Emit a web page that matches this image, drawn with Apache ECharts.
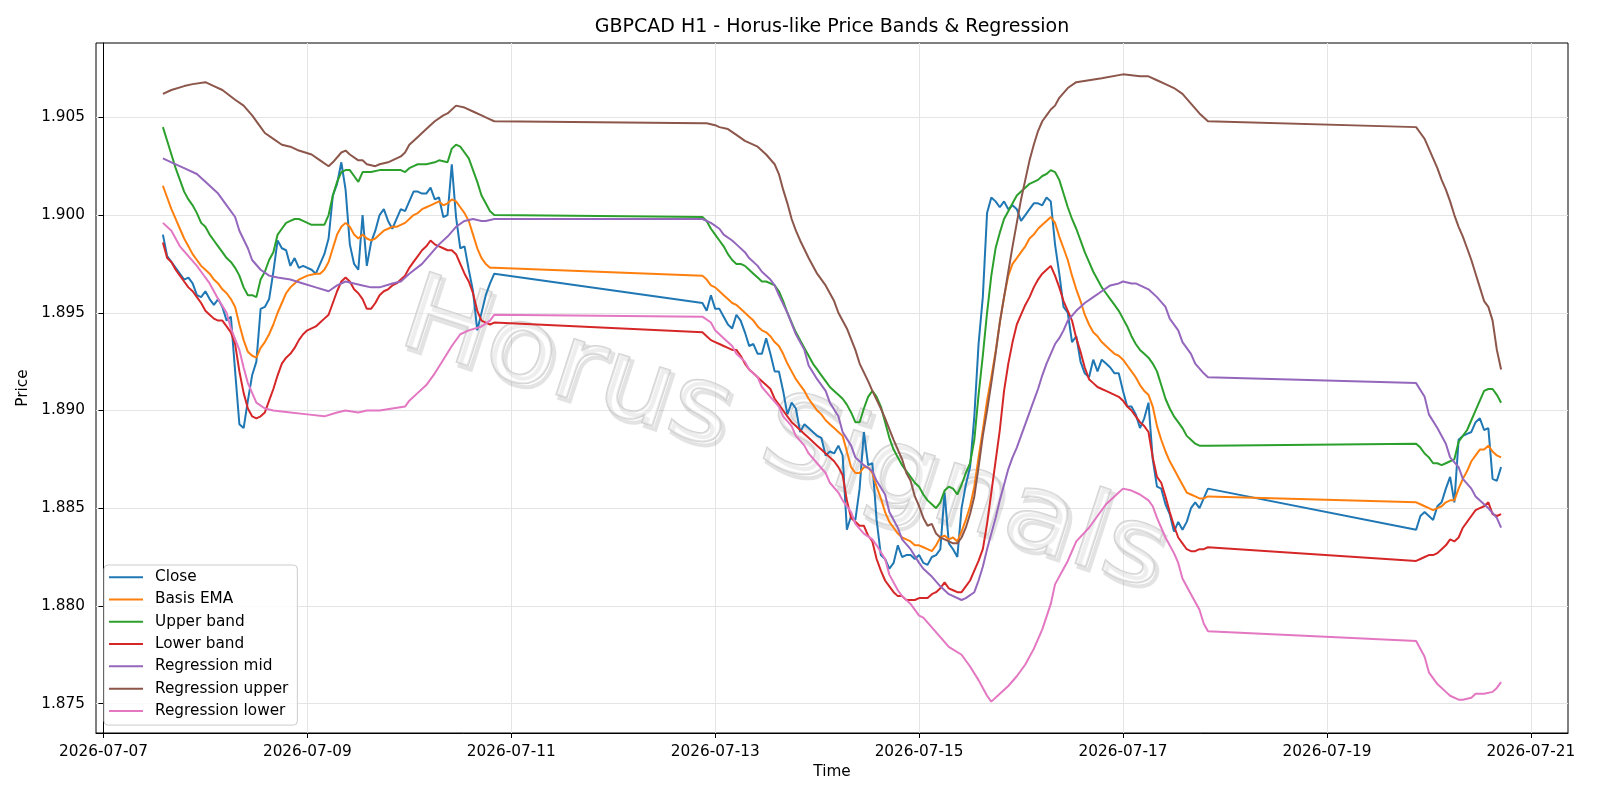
<!DOCTYPE html>
<html>
<head>
<meta charset="utf-8">
<title>GBPCAD H1 - Horus-like Price Bands & Regression</title>
<script src="https://cdn.jsdelivr.net/npm/echarts@6/dist/echarts.min.js"></script>
<style>
  html, body { margin: 0; padding: 0; background: #fff; }
  #chart { width: 1600px; height: 800px; }
</style>
</head>
<body>
<div id="chart"></div>
<script>
// x = hours since 2026-07-07 00:00, y = price
var closeData = [
  [14,1.8990],[15,1.8979],[17,1.8973],[19,1.8967],[20,1.8968],[21,1.8965],[22,1.8959],[23,1.8958],[24,1.8961],
  [25,1.8957],[26,1.8954],[27,1.8957],[28,1.8953],[29,1.8946],[30,1.8948],[31,1.8920],[32,1.8893],[33,1.8891],
  [34,1.8905],[35,1.8918],[36,1.8925],[37,1.8952],[38,1.8953],[39,1.8957],[40,1.8971],[41,1.8987],[42,1.8983],
  [43,1.8982],[44,1.8974],[45,1.8978],[46,1.8973],[47,1.8974],[49,1.8972],[50,1.8970],[51,1.8975],[52,1.8980],
  [53,1.8988],[54,1.9010],[55,1.9016],[56,1.9027],[57,1.9013],[58,1.8985],[59,1.8975],[60,1.8972],[61,1.9000],
  [62,1.8974],[63,1.8986],[64,1.8992],[65,1.9000],[66,1.9003],[67,1.8997],[68,1.8993],[69,1.8998],[70,1.9003],
  [71,1.9002],[72,1.9007],[73,1.9012],[74,1.9012],[75,1.9011],[76,1.9011],[77,1.9014],[78,1.9008],[79,1.9009],
  [80,1.8999],[81,1.9000],[82,1.9026],[83,1.8999],[84,1.8983],[85,1.8984],[86,1.8972],[87,1.8961],[88,1.8941],
  [89,1.8950],[90,1.8959],[91,1.8965],[92,1.8970],
  [141,1.8955],[142,1.8951],[143,1.8959],[144,1.8952],[145,1.8952],[146,1.8948],[147,1.8944],[148,1.8942],
  [149,1.8949],[150,1.8946],[151,1.8940],[152,1.8933],[153,1.8934],[154,1.8929],[155,1.8929],[156,1.8937],
  [157,1.8929],[158,1.8920],[159,1.8920],[160,1.8910],[161,1.8898],[162,1.8904],[163,1.8901],[164,1.8889],
  [165,1.8893],[166,1.8891],[167,1.8889],[168,1.8887],[169,1.8886],[170,1.8877],[171,1.8879],[172,1.8878],
  [173,1.8882],[174,1.8877],[175,1.8839],[176,1.8846],[177,1.8844],[178,1.8860],[179,1.8889],[180,1.8872],
  [181,1.8873],[182,1.8844],[183,1.8826],[184,1.8824],[185,1.8819],[186,1.8822],[187,1.8831],[188,1.8825],
  [189,1.8826],[190,1.8826],[191,1.8824],[192,1.8826],[193,1.8822],[194,1.8821],[195,1.8825],[196,1.8826],
  [197,1.8829],[198,1.8858],[199,1.8832],[200,1.8829],[201,1.8825],[202,1.8850],[203,1.8862],[204,1.8871],
  [205,1.8897],[206,1.8934],[207,1.8958],[208,1.9001],[209,1.9009],[210,1.9007],[211,1.9004],[212,1.9007],
  [213,1.9003],[214,1.9005],[215,1.9003],[216,1.8997],[217,1.9000],[218,1.9003],[219,1.9006],[220,1.9006],
  [221,1.9005],[222,1.9009],[223,1.9007],[224,1.8985],[225,1.8970],[226,1.8953],[227,1.8950],[228,1.8935],
  [229,1.8938],[230,1.8925],[231,1.8919],[232,1.8917],[233,1.8926],[234,1.8920],[235,1.8926],[236,1.8924],
  [237,1.8922],[238,1.8919],[239,1.8919],[240,1.8910],[241,1.8902],[242,1.8902],[243,1.8898],[244,1.8891],
  [245,1.8896],[246,1.8904],[247,1.8875],[248,1.8861],[249,1.8860],[250,1.8852],[251,1.8847],[252,1.8838],
  [253,1.8843],[254,1.8839],[255,1.8843],[256,1.8850],[257,1.8853],[258,1.8850],[259,1.8855],[260,1.8860],
  [309,1.8839],[310,1.8846],[311,1.8848],[312,1.8846],[313,1.8844],[314,1.8851],[315,1.8853],[316,1.8860],
  [317,1.8866],[318,1.8853],[319,1.8885],[320,1.8887],[321,1.8888],[322,1.8889],[323,1.8894],[324,1.8896],
  [325,1.8890],[326,1.8891],[327,1.8865],[328,1.8864],[329,1.8871]
];
var basisData = [
  [14,1.9015],[15,1.9009],[16,1.9003],[17,1.8998],[18,1.8993],[19,1.8988],[20,1.8984],[21,1.8980],[22,1.8977],
  [23,1.8974],[24,1.8972],[25,1.8970],[26,1.8967],[27,1.8965],[28,1.8962],[29,1.8960],[30,1.8957],[31,1.8953],
  [32,1.8944],[33,1.8936],[34,1.8930],[35,1.8928],[36,1.8927],[37,1.8932],[38,1.8935],[39,1.8939],[40,1.8944],
  [41,1.8950],[42,1.8955],[43,1.8960],[44,1.8963],[45,1.8965],[46,1.8967],[47,1.8968],[48,1.8969],[50,1.8970],
  [51,1.8970],[52,1.8972],[53,1.8976],[54,1.8983],[55,1.8990],[56,1.8994],[57,1.8996],[58,1.8994],[59,1.8990],
  [60,1.8988],[61,1.8990],[62,1.8988],[63,1.8987],[64,1.8988],[65,1.8990],[66,1.8992],[67,1.8993],[68,1.8994],
  [69,1.8994],[70,1.8995],[71,1.8996],[72,1.8998],[73,1.9000],[74,1.9001],[75,1.9003],[76,1.9004],[77,1.9005],
  [78,1.9006],[79,1.9007],[80,1.9005],[81,1.9006],[82,1.9008],[83,1.9007],[84,1.9004],[85,1.9001],[86,1.8997],
  [87,1.8990],[88,1.8983],[89,1.8978],[90,1.8975],[91,1.8973],[92,1.8973],
  [141,1.8969],[142,1.8967],[143,1.8964],[144,1.8963],[145,1.8961],[146,1.8959],[147,1.8957],[148,1.8955],
  [149,1.8954],[150,1.8952],[151,1.8950],[152,1.8948],[153,1.8946],[154,1.8943],[155,1.8941],[156,1.8940],
  [157,1.8938],[158,1.8935],[159,1.8933],[160,1.8929],[161,1.8924],[162,1.8920],[163,1.8916],[164,1.8913],
  [165,1.8910],[166,1.8906],[167,1.8903],[168,1.8900],[169,1.8898],[170,1.8895],[171,1.8893],[172,1.8891],
  [173,1.8889],[174,1.8887],[175,1.8879],[176,1.8871],[177,1.8868],[178,1.8868],[179,1.8871],[180,1.8871],
  [181,1.8868],[182,1.8861],[183,1.8855],[184,1.8848],[185,1.8843],[186,1.8840],[187,1.8837],[188,1.8835],
  [189,1.8834],[190,1.8833],[191,1.8831],[192,1.8831],[193,1.8830],[194,1.8829],[195,1.8828],[196,1.8831],
  [197,1.8835],[198,1.8836],[199,1.8834],[200,1.8835],[201,1.8833],[202,1.8838],[203,1.8844],[204,1.8851],
  [205,1.8861],[206,1.8876],[207,1.8890],[208,1.8905],[209,1.8917],[210,1.8930],[211,1.8945],[212,1.8958],
  [213,1.8969],[214,1.8975],[215,1.8978],[216,1.8981],[217,1.8984],[218,1.8988],[219,1.8990],[220,1.8993],
  [221,1.8995],[222,1.8997],[223,1.8999],[224,1.8996],[225,1.8989],[226,1.8983],[227,1.8977],[228,1.8969],
  [229,1.8962],[230,1.8956],[231,1.8949],[232,1.8944],[233,1.8940],[234,1.8938],[235,1.8935],[236,1.8933],
  [237,1.8931],[238,1.8929],[239,1.8928],[240,1.8926],[241,1.8923],[242,1.8920],[243,1.8917],[244,1.8913],
  [245,1.8910],[246,1.8908],[247,1.8902],[248,1.8892],[249,1.8885],[250,1.8879],[251,1.8874],[252,1.8870],
  [253,1.8866],[254,1.8862],[255,1.8858],[256,1.8857],[257,1.8856],[258,1.8855],[259,1.8855],[260,1.8856],
  [309,1.8853],[310,1.8852],[311,1.8851],[312,1.8850],[313,1.8849],[314,1.8850],[315,1.8851],[316,1.8853],
  [317,1.8854],[318,1.8854],[319,1.8860],[320,1.8865],[321,1.8869],[322,1.8874],[323,1.8877],[324,1.8880],
  [325,1.8880],[326,1.8882],[327,1.8879],[328,1.8877],[329,1.8876]
];
var upperData = [
  [14,1.9045],[15,1.9038],[16,1.9031],[17,1.9024],[18,1.9018],[19,1.9012],[20,1.9008],[21,1.9005],[22,1.9001],
  [23,1.8996],[24,1.8994],[25,1.8990],[26,1.8987],[27,1.8984],[28,1.8981],[29,1.8978],[30,1.8976],[31,1.8973],
  [32,1.8969],[33,1.8963],[34,1.8959],[35,1.8959],[36,1.8958],[37,1.8967],[38,1.8971],[39,1.8977],[40,1.8981],
  [41,1.8990],[42,1.8993],[43,1.8996],[44,1.8997],[45,1.8998],[46,1.8998],[47,1.8997],[48,1.8996],[49,1.8995],
  [50,1.8995],[51,1.8995],[52,1.8995],[53,1.9000],[54,1.9010],[55,1.9017],[56,1.9022],[57,1.9023],[58,1.9023],
  [59,1.9020],[60,1.9017],[61,1.9022],[63,1.9022],[65,1.9023],[67,1.9023],[68,1.9023],[70,1.9023],[71,1.9022],
  [72,1.9024],[73,1.9025],[74,1.9026],[76,1.9026],[78,1.9027],[79,1.9028],[81,1.9027],[82,1.9034],[83,1.9036],
  [84,1.9035],[85,1.9032],[86,1.9029],[87,1.9023],[88,1.9017],[89,1.9010],[90,1.9006],[91,1.9002],[92,1.9000],
  [141,1.8999],[142,1.8997],[143,1.8993],[144,1.8990],[145,1.8987],[146,1.8984],[147,1.8980],[148,1.8977],
  [149,1.8975],[150,1.8975],[151,1.8974],[152,1.8972],[153,1.8970],[154,1.8968],[155,1.8966],[156,1.8966],
  [157,1.8965],[158,1.8964],[159,1.8961],[160,1.8956],[161,1.8950],[162,1.8945],[163,1.8940],[164,1.8936],
  [165,1.8932],[166,1.8928],[167,1.8924],[168,1.8921],[169,1.8918],[170,1.8915],[171,1.8912],[172,1.8910],
  [173,1.8908],[174,1.8906],[175,1.8903],[176,1.8899],[177,1.8894],[178,1.8894],[179,1.8901],[180,1.8907],
  [181,1.8910],[182,1.8907],[183,1.8902],[184,1.8894],[185,1.8886],[186,1.8880],[187,1.8876],[188,1.8872],
  [189,1.8869],[190,1.8866],[191,1.8863],[192,1.8861],[193,1.8857],[194,1.8854],[195,1.8852],[196,1.8850],
  [197,1.8853],[198,1.8859],[199,1.8861],[200,1.8860],[201,1.8857],[202,1.8862],[203,1.8868],[204,1.8873],
  [205,1.8885],[206,1.8908],[207,1.8928],[208,1.8950],[209,1.8969],[210,1.8983],[211,1.8991],[212,1.8998],
  [213,1.9002],[214,1.9006],[215,1.9010],[216,1.9012],[217,1.9014],[218,1.9016],[219,1.9017],[220,1.9018],
  [221,1.9020],[222,1.9021],[223,1.9023],[224,1.9022],[225,1.9018],[226,1.9011],[227,1.9004],[228,1.8998],
  [229,1.8993],[230,1.8987],[231,1.8981],[232,1.8976],[233,1.8971],[234,1.8967],[235,1.8963],[236,1.8960],
  [237,1.8957],[238,1.8954],[239,1.8951],[240,1.8947],[241,1.8943],[242,1.8938],[243,1.8934],[244,1.8931],
  [245,1.8929],[246,1.8927],[247,1.8924],[248,1.8920],[249,1.8913],[250,1.8906],[251,1.8901],[252,1.8897],
  [253,1.8894],[254,1.8891],[255,1.8887],[256,1.8885],[257,1.8883],[258,1.8882],[259,1.8882],[260,1.8882],
  [309,1.8883],[310,1.8881],[311,1.8878],[312,1.8876],[313,1.8873],[314,1.8873],[315,1.8872],[316,1.8873],
  [317,1.8874],[318,1.8875],[319,1.8884],[320,1.8887],[321,1.8890],[322,1.8895],[323,1.8900],[324,1.8905],
  [325,1.8910],[326,1.8911],[327,1.8911],[328,1.8908],[329,1.8904]
];
var lowerData = [
  [14,1.8986],[15,1.8978],[16,1.8976],[17,1.8972],[18,1.8969],[19,1.8966],[20,1.8963],[21,1.8961],[22,1.8958],
  [23,1.8955],[24,1.8951],[25,1.8949],[26,1.8947],[27,1.8946],[28,1.8946],[29,1.8943],[30,1.8940],[31,1.8934],
  [32,1.8920],[33,1.8909],[34,1.8901],[35,1.8897],[36,1.8896],[37,1.8897],[38,1.8899],[39,1.8905],[40,1.8911],
  [41,1.8918],[42,1.8924],[43,1.8927],[44,1.8929],[45,1.8932],[46,1.8936],[47,1.8939],[48,1.8941],[49,1.8942],
  [50,1.8943],[51,1.8945],[52,1.8947],[53,1.8949],[54,1.8955],[55,1.8961],[56,1.8966],[57,1.8968],[58,1.8966],
  [59,1.8962],[60,1.8960],[61,1.8957],[62,1.8952],[63,1.8952],[64,1.8955],[65,1.8959],[66,1.8961],[67,1.8962],
  [68,1.8964],[69,1.8965],[70,1.8967],[71,1.8969],[72,1.8973],[73,1.8976],[74,1.8979],[75,1.8982],[76,1.8984],
  [77,1.8987],[78,1.8985],[79,1.8984],[80,1.8983],[81,1.8982],[82,1.8982],[83,1.8980],[84,1.8975],[85,1.8970],
  [86,1.8966],[87,1.8960],[88,1.8951],[89,1.8946],[90,1.8945],[91,1.8944],[92,1.8945],
  [141,1.8940],[142,1.8938],[143,1.8936],[144,1.8935],[145,1.8934],[146,1.8933],[147,1.8932],[148,1.8931],
  [149,1.8931],[150,1.8928],[151,1.8924],[152,1.8921],[153,1.8919],[154,1.8917],[155,1.8915],[156,1.8913],
  [157,1.8911],[158,1.8906],[159,1.8903],[160,1.8900],[161,1.8897],[162,1.8894],[163,1.8892],[164,1.8890],
  [165,1.8888],[166,1.8886],[167,1.8884],[168,1.8882],[169,1.8880],[170,1.8878],[171,1.8876],[172,1.8874],
  [173,1.8871],[174,1.8867],[175,1.8854],[176,1.8845],[177,1.8843],[178,1.8841],[179,1.8841],[180,1.8836],
  [181,1.8833],[182,1.8824],[183,1.8818],[184,1.8813],[185,1.8810],[186,1.8807],[187,1.8805],[188,1.8805],
  [189,1.8803],[190,1.8803],[191,1.8803],[192,1.8804],[193,1.8804],[194,1.8804],[195,1.8806],[196,1.8807],
  [197,1.8809],[198,1.8812],[199,1.8809],[200,1.8808],[201,1.8807],[202,1.8807],[203,1.8810],[204,1.8813],
  [205,1.8818],[206,1.8823],[207,1.8829],[208,1.8842],[209,1.8858],[210,1.8874],[211,1.8890],[212,1.8910],
  [213,1.8924],[214,1.8935],[215,1.8944],[216,1.8949],[217,1.8954],[218,1.8958],[219,1.8963],[220,1.8967],
  [221,1.8970],[222,1.8972],[223,1.8974],[224,1.8969],[225,1.8963],[226,1.8956],[227,1.8951],[228,1.8946],
  [229,1.8937],[230,1.8930],[231,1.8922],[232,1.8916],[233,1.8914],[234,1.8912],[235,1.8911],[236,1.8910],
  [237,1.8909],[238,1.8908],[239,1.8907],[240,1.8905],[241,1.8902],[242,1.8900],[243,1.8897],[244,1.8894],
  [245,1.8892],[246,1.8889],[247,1.8876],[248,1.8866],[249,1.8863],[250,1.8856],[251,1.8848],[252,1.8841],
  [253,1.8835],[254,1.8832],[255,1.8829],[256,1.8828],[257,1.8828],[258,1.8829],[259,1.8829],[260,1.8830],
  [309,1.8823],[310,1.8824],[311,1.8825],[312,1.8826],[313,1.8826],[314,1.8827],[315,1.8829],[316,1.8831],
  [317,1.8834],[318,1.8833],[319,1.8835],[320,1.8840],[321,1.8843],[322,1.8846],[323,1.8849],[324,1.8850],
  [325,1.8851],[326,1.8853],[327,1.8847],[328,1.8846],[329,1.8847]
];
var regMidData = [
  [14,1.9029],[16,1.9027],[19,1.9024],[22,1.9021],[24,1.9017],[27,1.9011],[29,1.9005],[31,1.8999],[32,1.8992],
  [34,1.8983],[35,1.8977],[37,1.8972],[39,1.8969],[41,1.8968],[44,1.8967],[47,1.8965],[50,1.8963],[53,1.8961],
  [55,1.8964],[57,1.8966],[59,1.8965],[61,1.8964],[63,1.8963],[65,1.8963],[68,1.8965],[70,1.8966],[72,1.8970],
  [75,1.8975],[77,1.8980],[79,1.8985],[81,1.8989],[83,1.8994],[85,1.8997],[87,1.8998],[89,1.8997],[90,1.8997],
  [92,1.8998],
  [141,1.8998],[143,1.8996],[145,1.8993],[146,1.8990],[148,1.8987],[149,1.8985],[151,1.8981],[152,1.8978],
  [154,1.8974],[155,1.8971],[157,1.8967],[158,1.8964],[159,1.8959],[161,1.8950],[163,1.8939],[165,1.8931],
  [166,1.8923],[168,1.8916],[170,1.8910],[171,1.8904],[173,1.8897],[174,1.8889],[176,1.8882],[177,1.8876],
  [179,1.8872],[181,1.8869],[182,1.8864],[184,1.8857],[185,1.8848],[187,1.8840],[188,1.8834],[190,1.8829],
  [192,1.8822],[193,1.8819],[195,1.8815],[197,1.8810],[199,1.8806],[202,1.8803],[203,1.8804],[205,1.8807],
  [206,1.8813],[207,1.8820],[208,1.8829],[209,1.8837],[210,1.8845],[211,1.8854],[212,1.8862],[213,1.8870],
  [214,1.8876],[215,1.8881],[216,1.8887],[217,1.8893],[218,1.8899],[219,1.8905],[220,1.8911],[221,1.8918],
  [222,1.8924],[223,1.8929],[224,1.8934],[225,1.8937],[226,1.8941],[227,1.8946],[229,1.8951],[231,1.8955],
  [233,1.8958],[235,1.8961],[237,1.8964],[239,1.8965],[240,1.8966],[242,1.8965],[243,1.8965],[245,1.8963],
  [246,1.8962],[248,1.8958],[250,1.8953],[251,1.8947],[253,1.8941],[254,1.8935],[256,1.8929],[257,1.8924],
  [259,1.8919],[260,1.8917],
  [309,1.8914],[311,1.8907],[312,1.8898],[314,1.8891],[316,1.8883],[317,1.8876],[319,1.8871],[320,1.8865],
  [322,1.8860],[323,1.8856],[325,1.8852],[326,1.8850],[328,1.8845],[329,1.8840]
];
var regUpperData = [
  [14,1.9062],[16,1.9064],[19,1.9066],[21,1.9067],[24,1.9068],[26,1.9066],[28,1.9064],[31,1.9059],[33,1.9056],
  [35,1.9051],[37,1.9045],[38,1.9042],[40,1.9039],[42,1.9036],[44,1.9035],[46,1.9033],[49,1.9031],[51,1.9028],
  [53,1.9025],[54,1.9027],[56,1.9032],[57,1.9033],[58,1.9031],[60,1.9028],[61,1.9028],[62,1.9026],[64,1.9025],
  [65,1.9026],[67,1.9027],[69,1.9029],[70,1.9030],[71,1.9032],[72,1.9036],[74,1.9040],[76,1.9044],[78,1.9048],
  [80,1.9051],[81,1.9052],[83,1.9056],[85,1.9055],[87,1.9053],[89,1.9051],[91,1.9049],[92,1.9048],
  [141,1.9047],[142,1.9047],[144,1.9046],[145,1.9045],[147,1.9044],[149,1.9041],[151,1.9038],[154,1.9035],
  [156,1.9031],[158,1.9026],[159,1.9021],[160,1.9013],[161,1.9006],[162,1.8998],[163,1.8992],[164,1.8987],
  [166,1.8978],[168,1.8970],[170,1.8964],[172,1.8956],[173,1.8950],[175,1.8942],[177,1.8931],[178,1.8924],
  [180,1.8915],[181,1.8910],[183,1.8901],[184,1.8896],[186,1.8885],[187,1.8880],[188,1.8875],[189,1.8868],
  [190,1.8864],[191,1.8856],[192,1.8851],[193,1.8845],[194,1.8841],[195,1.8842],[196,1.8837],[197,1.8835],
  [198,1.8834],[199,1.8833],[200,1.8832],[201,1.8832],[202,1.8835],[203,1.8840],[204,1.8847],[205,1.8856],
  [206,1.8871],[207,1.8887],[208,1.8900],[209,1.8914],[210,1.8929],[211,1.8945],[212,1.8958],[213,1.8971],
  [214,1.8984],[215,1.8996],[216,1.9008],[217,1.9018],[218,1.9028],[219,1.9036],[220,1.9043],[221,1.9048],
  [222,1.9051],[223,1.9054],[224,1.9056],[225,1.9060],[227,1.9065],[229,1.9068],[232,1.9069],[235,1.9070],
  [240,1.9072],[244,1.9071],[246,1.9071],[248,1.9069],[250,1.9067],[252,1.9065],[254,1.9062],[256,1.9057],
  [258,1.9052],[260,1.9048],
  [309,1.9045],[310,1.9042],[311,1.9039],[312,1.9034],[313,1.9029],[314,1.9024],[315,1.9018],[316,1.9013],
  [317,1.9007],[318,1.9000],[319,1.8994],[320,1.8989],[321,1.8983],[322,1.8977],[323,1.8970],[324,1.8963],
  [325,1.8956],[326,1.8953],[327,1.8946],[328,1.8931],[329,1.8921]
];
var regLowerData = [
  [14,1.8996],[16,1.8992],[18,1.8984],[20,1.8979],[22,1.8974],[23,1.8971],[25,1.8965],[27,1.8957],[29,1.8950],
  [30,1.8942],[32,1.8931],[33,1.8922],[34,1.8914],[36,1.8904],[38,1.8901],[40,1.8900],[44,1.8899],[48,1.8898],
  [52,1.8897],[55,1.8899],[57,1.8900],[60,1.8899],[62,1.8900],[65,1.8900],[68,1.8901],[71,1.8902],[72,1.8905],
  [74,1.8909],[76,1.8913],[78,1.8919],[80,1.8926],[82,1.8933],[84,1.8939],[86,1.8941],[89,1.8943],[91,1.8946],
  [92,1.8949],
  [141,1.8948],[143,1.8945],[144,1.8941],[146,1.8937],[148,1.8933],[149,1.8929],[151,1.8925],[152,1.8921],
  [154,1.8917],[155,1.8912],[157,1.8907],[159,1.8902],[160,1.8897],[162,1.8892],[163,1.8887],[165,1.8882],
  [166,1.8878],[168,1.8873],[170,1.8868],[171,1.8863],[173,1.8858],[174,1.8854],[176,1.8848],[177,1.8842],
  [179,1.8837],[181,1.8834],[182,1.8831],[184,1.8824],[185,1.8816],[187,1.8808],[188,1.8805],[190,1.8801],
  [192,1.8795],[193,1.8794],[195,1.8789],[197,1.8784],[199,1.8779],[202,1.8775],[204,1.8769],[206,1.8762],
  [208,1.8754],[209,1.8751],[211,1.8755],[213,1.8759],[215,1.8764],[217,1.8770],[219,1.8778],[221,1.8788],
  [223,1.8801],[224,1.8811],[227,1.8823],[229,1.8833],[232,1.8840],[234,1.8846],[236,1.8852],[239,1.8858],
  [240,1.8860],[242,1.8859],[244,1.8857],[246,1.8854],[247,1.8851],[248,1.8845],[250,1.8835],[252,1.8827],
  [253,1.8822],[254,1.8814],[256,1.8806],[258,1.8798],[259,1.8791],[260,1.8787],
  [309,1.8782],[311,1.8774],[312,1.8766],[314,1.8760],[316,1.8756],[317,1.8754],[319,1.8752],[320,1.8752],
  [322,1.8753],[323,1.8755],[325,1.8755],[327,1.8756],[328,1.8758],[329,1.8761]
];
var xTicks = [0, 48, 96, 144, 192, 240, 288, 336];
var yTicks = [1.875, 1.880, 1.885, 1.890, 1.895, 1.900, 1.905];
var seriesNames = ['Close', 'Basis EMA', 'Upper band', 'Lower band', 'Regression mid', 'Regression upper', 'Regression lower'];
var seriesColors = ['#1f77b4', '#ff7f0e', '#2ca02c', '#d62728', '#9467bd', '#8c564b', '#e377c2'];
var seriesData = [closeData, basisData, upperData, lowerData, regMidData, regUpperData, regLowerData];

var FONT = '"DejaVu Sans", sans-serif';

// matplotlib style 5% margins
var xs = [], ys = [];
seriesData.forEach(function (d) {
  d.forEach(function (p) { xs.push(p[0]); ys.push(p[1]); });
});
var xMin = Math.min.apply(null, xs), xMax = Math.max.apply(null, xs);
var yMin = Math.min.apply(null, ys), yMax = Math.max.apply(null, ys);
var xPad = (xMax - xMin) * 0.05, yPad = (yMax - yMin) * 0.05;

function dayLabel(h) {
  var d = 7 + Math.round(h / 24);
  return '2026-07-' + (d < 10 ? '0' + d : d);
}

var series = [];
for (var i = 0; i < seriesData.length; i++) {
  series.push({
    name: seriesNames[i],
    type: 'line',
    data: seriesData[i],
    symbol: 'none',
    showSymbol: false,
    z: 3,
    lineStyle: { width: 2, color: seriesColors[i] },
    itemStyle: { color: seriesColors[i] },
    emphasis: { disabled: true }
  });
}

var wmRot = -18 * Math.PI / 180;

var option = {
  animation: false,
  backgroundColor: '#fff',
  title: {
    text: 'GBPCAD H1 - Horus-like Price Bands & Regression',
    left: 832,
    top: 18,
    textAlign: 'center',
    padding: 0,
    textStyle: { fontFamily: FONT, fontSize: 19, fontWeight: 'normal', color: '#000' }
  },
  legend: {
    orient: 'vertical',
    left: 104,
    top: 565,
    padding: [1, 9, 3, 5],
    itemGap: 0,
    itemWidth: 34,
    itemHeight: 2,
    icon: 'rect',
    backgroundColor: 'rgba(255,255,255,0.8)',
    borderColor: '#cccccc',
    borderWidth: 1,
    borderRadius: 4,
    data: seriesNames,
    textStyle: { fontFamily: FONT, fontSize: 15.3, color: '#000', lineHeight: 22.3, padding: [0, 0, 0, 7] }
  },
  grid: {
    left: 96, right: 32, top: 43, bottom: 67,
    containLabel: false,
    outerBoundsMode: 'none',
    show: true,
    borderColor: '#000',
    borderWidth: 1,
    backgroundColor: 'transparent'
  },
  xAxis: {
    type: 'value',
    min: xMin - xPad,
    max: xMax + xPad,
    name: 'Time',
    nameLocation: 'middle',
    nameGap: 32,
    nameTextStyle: { fontFamily: FONT, fontSize: 15.3, color: '#000' },
    axisLine: { show: true, lineStyle: { color: '#000', width: 1 } },
    axisTick: { show: true, length: 5, lineStyle: { color: '#000', width: 1 }, customValues: xTicks },
    axisLabel: {
      customValues: xTicks,
      formatter: function (v) { return dayLabel(v); },
      fontFamily: FONT, fontSize: 15.3, color: '#000', margin: 12
    },
    splitLine: { show: true, lineStyle: { color: '#e4e4e4', width: 1 } }
  },
  yAxis: {
    type: 'value',
    min: yMin - yPad,
    max: yMax + yPad,
    name: 'Price',
    nameLocation: 'middle',
    nameRotate: 90,
    nameGap: 49,
    nameTextStyle: { fontFamily: FONT, fontSize: 15.3, color: '#000' },
    axisLine: { show: true, lineStyle: { color: '#000', width: 1 } },
    axisTick: { show: true, length: 5, lineStyle: { color: '#000', width: 1 }, customValues: yTicks },
    axisLabel: {
      customValues: yTicks,
      formatter: function (v) { return v.toFixed(3); },
      fontFamily: FONT, fontSize: 15.3, color: '#000', margin: 11
    },
    splitLine: { show: true, lineStyle: { color: '#e4e4e4', width: 1 } }
  },
  graphic: [
    {
      type: 'text', x: 786, y: 443, rotation: wmRot, scaleX: 1.1, z: 1, silent: true,
      style: {
        text: 'Horus Signals', font: '106px ' + FONT, textAlign: 'center', textVerticalAlign: 'middle',
        fill: 'rgba(0,0,0,0)', stroke: 'rgba(0,0,0,0.11)', lineWidth: 4
      }
    },
    {
      type: 'text', x: 783, y: 439, rotation: wmRot, scaleX: 1.1, z: 1, silent: true,
      style: {
        text: 'Horus Signals', font: '106px ' + FONT, textAlign: 'center', textVerticalAlign: 'middle',
        fill: 'rgba(255,255,255,0.4)', stroke: 'rgba(200,200,200,0.8)', lineWidth: 2
      }
    }
  ],
  series: series
};

var chart = echarts.init(document.getElementById('chart'), null, { renderer: 'canvas' });
chart.setOption(option);
</script>
</body>
</html>
